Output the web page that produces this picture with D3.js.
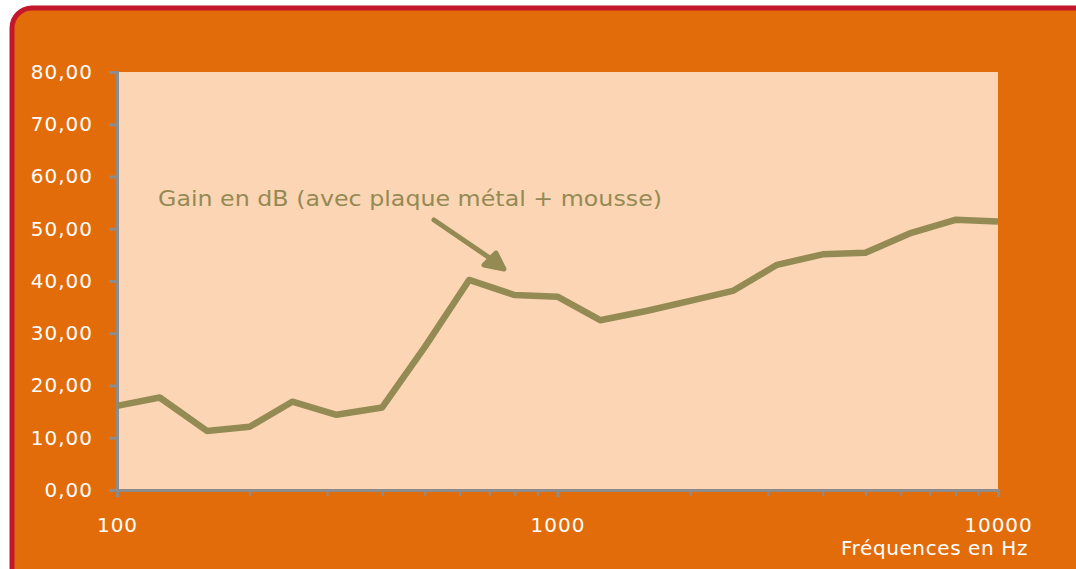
<!doctype html>
<html lang="fr">
<head>
    <meta charset="utf-8"/>
    <title>Gain en dB</title>
    <style>
        body { margin: 0; background: #fff; }
        svg { display: block; }
    </style>
</head>
<body>
    <svg width="1076" height="569"></svg>
    <script src="https://d3js.org/d3.v7.min.js"></script>
    <script>
        // third-octave frequencies (Hz) and measured gain (dB)
        const freqs = [100, 125, 160, 200, 250, 315, 400, 500, 630, 800, 1000,
                       1250, 1600, 2000, 2500, 3150, 4000, 5000, 6300, 8000, 10000];
        const gain = [16.1, 17.7, 11.3, 12.1, 16.9, 14.4, 15.8, 27.4, 40.2, 37.3, 37.0,
                      32.5, 34.3, 36.2, 38.1, 43.1, 45.1, 45.4, 49.1, 51.7, 51.4];
        const yTicks = [0, 10, 20, 30, 40, 50, 60, 70, 80];
        const xLabels = [100, 1000, 10000];
        const seriesLabel = "Gain en dB (avec plaque métal + mousse)";
        const xTitle = "Fréquences en Hz";

        const svg = d3.select("svg");
        const font = "'DejaVu Sans', Verdana, sans-serif";

        // orange frame with crimson border
        svg.append("rect")
            .attr("x", 12).attr("y", 8)
            .attr("width", 1090).attr("height", 600)
            .attr("rx", 20)
            .attr("fill", "#e36c0a")
            .attr("stroke", "#c3182c")
            .attr("stroke-width", 5);

        const plot = {left: 117, right: 998, top: 72, bottom: 490};

        const x = d3.scaleLog().domain([100, 10000]).range([plot.left, plot.right]);
        const y = d3.scaleLinear().domain([0, 80]).range([plot.bottom, plot.top]);

        svg.append("rect")
            .attr("x", plot.left).attr("y", plot.top)
            .attr("width", plot.right - plot.left).attr("height", plot.bottom - plot.top)
            .attr("fill", "#fcd5b5");

        const fr = d3.formatLocale({decimal: ",", thousands: " ", grouping: [3], currency: ["", "€"]});
        const fmt = fr.format(".2f");

        // y axis
        const gy = svg.append("g")
            .attr("transform", `translate(${plot.left},0)`)
            .call(d3.axisLeft(y).tickValues(yTicks).tickSize(8).tickPadding(16).tickFormat(fmt));

        // x axis: minor ticks at every 100 / 1000 step, labels on decades
        let xTickVals = [];
        [100, 1000].forEach(d => { for (let k = 1; k < 10; k++) xTickVals.push(d * k); });
        xTickVals.push(10000);
        const gx = svg.append("g")
            .attr("transform", `translate(0,${plot.bottom})`)
            .call(d3.axisBottom(x).tickValues(xTickVals).tickSize(6).tickPadding(22)
                .tickFormat(d => xLabels.includes(d) ? d : ""));

        [gx, gy].forEach(g => {
            g.select(".domain").attr("stroke", "#8c8c8c").attr("stroke-width", 3);
            g.selectAll(".tick line").attr("stroke", "#8c8c8c").attr("stroke-width", 3);
            g.selectAll("text")
                .attr("fill", "#fff")
                .style("font-family", font)
                .style("font-size", "20px")
                .style("letter-spacing", "1px");
        });
        gx.selectAll(".tick line").attr("stroke-width", 2);
        gx.selectAll(".tick")
            .filter(d => xLabels.includes(d))
            .select("line").attr("stroke-width", 3).attr("y2", 7);

        svg.append("text")
            .attr("x", 1028).attr("y", 555)
            .attr("text-anchor", "end")
            .attr("fill", "#fff")
            .style("font-family", font)
            .style("font-size", "20px")
            .style("letter-spacing", "0.6px")
            .text(xTitle);

        // data line
        const line = d3.line()
            .x((d, i) => x(freqs[i]))
            .y(d => y(d));

        svg.append("path")
            .datum(gain)
            .attr("fill", "none")
            .attr("stroke", "#948a54")
            .attr("stroke-width", 6.5)
            .attr("stroke-linejoin", "round")
            .attr("d", line);

        // annotation and arrow
        svg.append("text")
            .attr("x", 158).attr("y", 206)
            .attr("fill", "#948a54")
            .attr("textLength", 504)
            .attr("lengthAdjust", "spacingAndGlyphs")
            .style("font-family", font)
            .style("font-size", "22px")
            .text(seriesLabel);

        const arrow = svg.append("g")
            .attr("fill", "#948a54")
            .attr("stroke", "#948a54")
            .attr("stroke-width", 5)
            .attr("stroke-linecap", "round")
            .attr("stroke-linejoin", "round");
        arrow.append("path").attr("fill", "none").attr("d", "M434,220 L500,265");
        arrow.append("path").attr("d", "M484,265 L504,269 L496,253 Z");
    </script>
</body>
</html>
